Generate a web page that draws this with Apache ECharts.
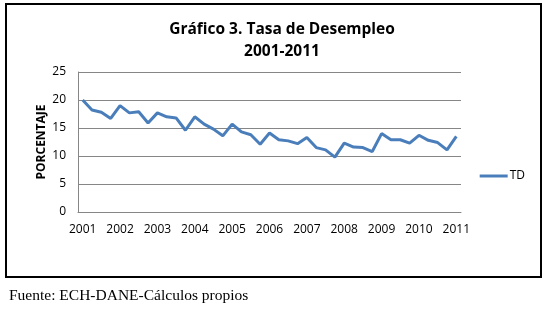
<!DOCTYPE html>
<html>
<head>
<meta charset="utf-8">
<script src="https://cdn.jsdelivr.net/npm/echarts@6/dist/echarts.min.js"></script>
<style>
  html, body { margin: 0; padding: 0; background: #fff; }
  #chart { width: 547px; height: 310px; }
</style>
</head>
<body>
<div id="chart"></div>
<script>
// trimestres 2001-I ... 2011-I
var years = ["2001", "2002", "2003", "2004", "2005", "2006", "2007", "2008", "2009", "2010", "2011"];
var quarters = [];
years.forEach(function (y, i) {
  var n = i < years.length - 1 ? 4 : 1;
  for (var q = 1; q <= n; q++) quarters.push(y + "-" + q);
});
// tasa de desempleo (TD)
var td = [20.0, 18.2, 17.8, 16.7, 19.0, 17.7, 17.9, 15.9, 17.7, 17.0,
          16.8, 14.6, 17.0, 15.7, 14.8, 13.6, 15.7, 14.3, 13.8, 12.1,
          14.1, 12.9, 12.7, 12.2, 13.3, 11.5, 11.1, 9.8, 12.3, 11.6,
          11.5, 10.8, 14.0, 12.9, 12.9, 12.3, 13.7, 12.8, 12.4, 11.1,
          13.5];
var yTicks = [0, 5, 10, 15, 20, 25];

var chart = echarts.init(document.getElementById("chart"));
var option = {
  animation: false,
  title: {
    text: "Gráfico 3. Tasa de Desempleo\n2001-2011",
    left: 277,
    top: 14,
    textAlign: "center",
    textStyle: {
      fontFamily: "Open Sans",
      fontWeight: "bold",
      fontSize: 15.5,
      lineHeight: 22,
      color: "#000"
    }
  },
  legend: {
    right: 17,
    top: 165,
    itemWidth: 28,
    itemHeight: 3,
    itemGap: 4,
    icon: "rect",
    textStyle: { fontFamily: "Open Sans", fontSize: 12, color: "#000", padding: [0, 0, 0, -3] },
    data: ["TD"]
  },
  grid: { left: 78, right: 86, top: 72, bottom: 98, containLabel: false },
  xAxis: {
    type: "category",
    data: quarters,
    boundaryGap: true,
    axisLine: { lineStyle: { color: "#868686", width: 1 } },
    axisTick: { show: false },
    axisLabel: {
      interval: 3,
      margin: 12,
      fontFamily: "Open Sans",
      fontSize: 12,
      color: "#000",
      formatter: function (v) { return v.split("-")[0]; }
    }
  },
  yAxis: {
    type: "value",
    min: yTicks[0],
    max: yTicks[yTicks.length - 1],
    interval: 5,
    name: "PORCENTAJE",
    nameLocation: "middle",
    nameGap: 30,
    nameMoveOverlap: false,
    nameTextStyle: { fontFamily: "Open Sans", fontWeight: "bold", fontSize: 12, color: "#000" },
    axisLine: { show: true, lineStyle: { color: "#868686", width: 1 } },
    axisTick: { show: false },
    splitLine: { lineStyle: { color: "#868686", width: 1 } },
    axisLabel: { fontFamily: "Open Sans", fontSize: 12, color: "#000", margin: 12 }
  },
  series: [{
    name: "TD",
    type: "line",
    data: td,
    symbol: "none",
    lineStyle: { color: "#4a7ebb", width: 3 },
    itemStyle: { color: "#4a7ebb" }
  }],
  graphic: [
    {
      type: "rect",
      shape: { x: 6, y: 4, width: 535, height: 273 },
      style: { fill: null, stroke: "#000", lineWidth: 2 },
      silent: true
    },
    {
      type: "text",
      left: 9,
      top: 288,
      style: {
        text: "Fuente: ECH-DANE-Cálculos propios",
        font: "15.5px 'Liberation Serif'",
        fill: "#000"
      }
    }
  ]
};
chart.setOption(option);
</script>
</body>
</html>
